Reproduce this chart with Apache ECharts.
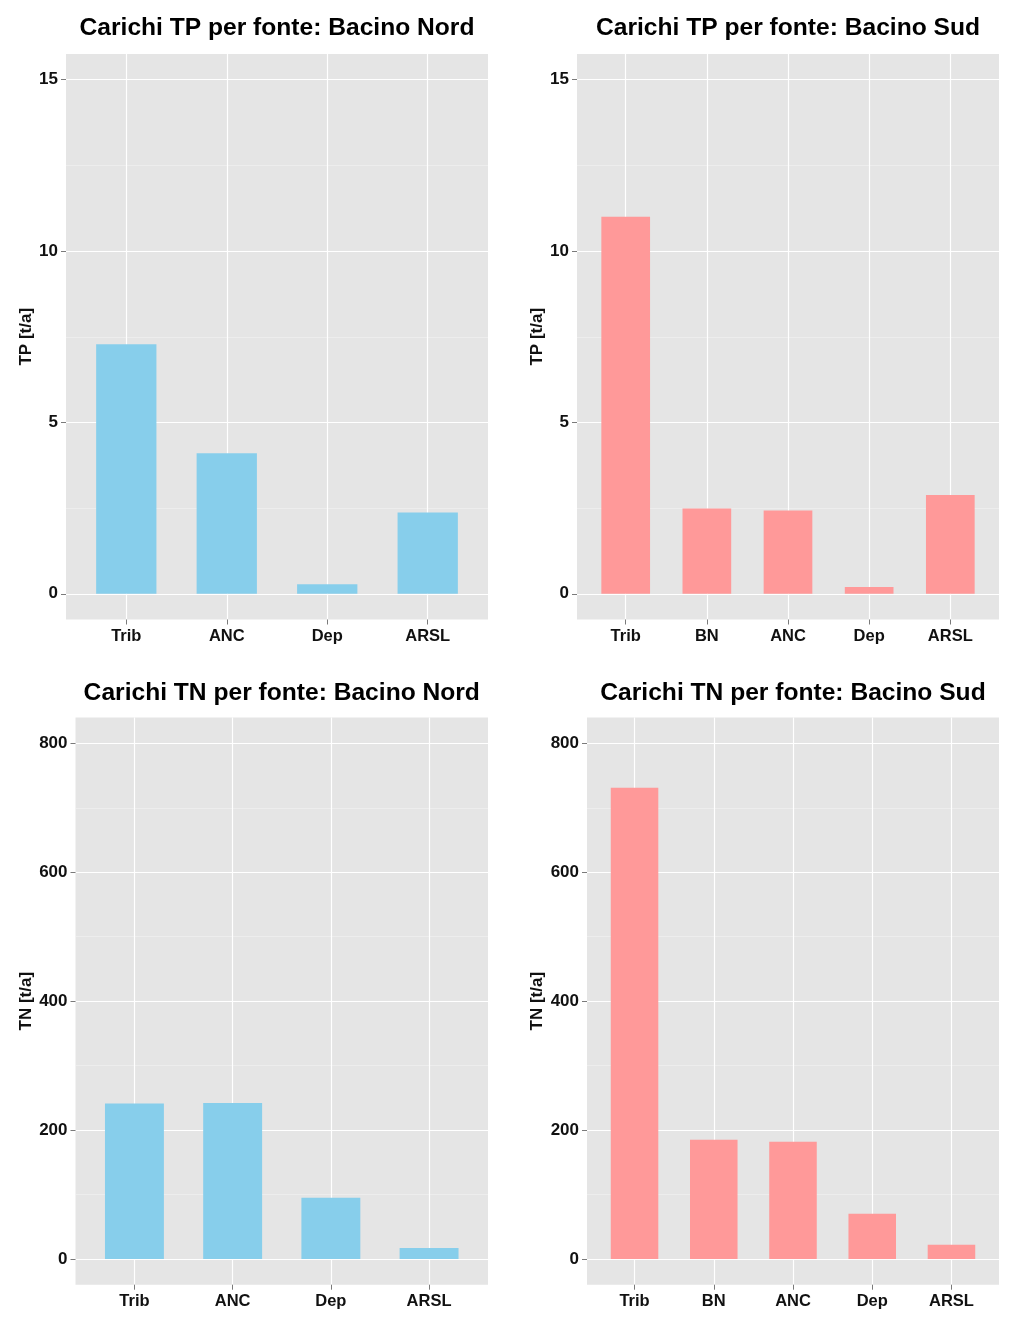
<!DOCTYPE html>
<html>
<head>
<meta charset="utf-8">
<script src="https://cdn.jsdelivr.net/npm/echarts@6/dist/echarts.min.js"></script>
<style>
html,body{margin:0;padding:0;background:#fff;}
#chart{width:1024px;height:1330px;}
</style>
</head>
<body>
<div id="chart"></div>
<script>
// ---- data ----
const catNord = ['Trib', 'ANC', 'Dep', 'ARSL'];
const catSud = ['Trib', 'BN', 'ANC', 'Dep', 'ARSL'];
const tpNord = [7.28, 4.10, 0.28, 2.37];
const tpSud = [11.0, 2.49, 2.43, 0.20, 2.88];
const tnNord = [241, 242, 95, 17];
const tnSud = [731, 185, 182, 70, 22];
const tpTicks = [0, 5, 10, 15];
const tnTicks = [0, 200, 400, 600, 800];
const titles = [
  'Carichi TP per fonte: Bacino Nord',
  'Carichi TP per fonte: Bacino Sud',
  'Carichi TN per fonte: Bacino Nord',
  'Carichi TN per fonte: Bacino Sud'
];
const yNames = ['TP [t/a]', 'TP [t/a]', 'TN [t/a]', 'TN [t/a]'];

// ---- layout (styles/positions) ----
const BLUE = '#87CEEB';
const PINK = '#FF9999';
const FONT = 'Liberation Sans, Arial, Helvetica, sans-serif';
const panels = [
  {cats: catNord, vals: tpNord, ticks: tpTicks, color: BLUE, left: 66, right: 488, top: 54, bottom: 619.5, gap: 31, titleY: 28},
  {cats: catSud, vals: tpSud, ticks: tpTicks, color: PINK, left: 577, right: 999, top: 54, bottom: 619.5, gap: 31, titleY: 28},
  {cats: catNord, vals: tnNord, ticks: tnTicks, color: BLUE, left: 75.5, right: 488, top: 717.6, bottom: 1284.7, gap: 41, titleY: 693},
  {cats: catSud, vals: tnSud, ticks: tnTicks, color: PINK, left: 587, right: 999, top: 717.6, bottom: 1284.7, gap: 41, titleY: 693}
];

const grid = [], xAxis = [], yAxis = [], series = [], graphic = [];

panels.forEach((p, k) => {
  const tmin = p.ticks[0], tmax = p.ticks[p.ticks.length - 1];
  const interval = p.ticks[1] - p.ticks[0];
  const exp = (tmax - tmin) * 0.05;
  const W = p.right - p.left, H = p.bottom - p.top;
  const pxU = H / (tmax - tmin + 2 * exp);
  const n = p.cats.length;
  const spacing = W / (n + 0.2);

  // background grid
  const gBG = grid.length;
  grid.push({left: p.left, top: p.top, width: W, height: H, show: true, backgroundColor: '#E5E5E5', borderWidth: 0});
  xAxis.push({gridIndex: gBG, type: 'value', show: false});
  yAxis.push({gridIndex: gBG, type: 'value', show: false});

  // y-axis grid (gridlines + labels), vertically inset to tick range
  const gA = grid.length;
  grid.push({left: p.left, top: p.top + exp * pxU, width: W, height: (tmax - tmin) * pxU, show: false});
  xAxis.push({gridIndex: gA, type: 'value', show: false});
  yAxis.push({
    gridIndex: gA, type: 'value', min: tmin, max: tmax, interval: interval,
    name: yNames[k], nameLocation: 'middle', nameRotate: 90, nameGap: p.gap,
    nameTextStyle: {fontFamily: FONT, fontWeight: 'bold', fontSize: 17, color: '#111'},
    axisLine: {show: false, onZero: false},
    axisTick: {show: true, length: 5, lineStyle: {color: '#7a7a7a', width: 1}},
    axisLabel: {fontFamily: FONT, fontWeight: 'bold', fontSize: 17, color: '#111', margin: 8},
    splitLine: {show: true, lineStyle: {color: '#FFFFFF', width: 1.2}},
    minorTick: {show: false, splitNumber: 2},
    minorSplitLine: {show: true, lineStyle: {color: '#F2F2F2', width: 0.6}}
  });

  // bar grid, horizontally inset so category centres sit as in the reference
  const gB = grid.length;
  grid.push({left: p.left + 0.1 * spacing, top: p.top, width: W - 0.2 * spacing, height: H, show: false});
  const xB = xAxis.length;
  // vertical white gridlines at category centres
  xAxis.push({
    gridIndex: gB, type: 'category', data: p.cats, position: 'bottom',
    axisLine: {show: false, onZero: false}, axisLabel: {show: false},
    axisTick: {show: true, inside: true, alignWithLabel: true, length: H, lineStyle: {color: '#FFFFFF', width: 1.2}},
    splitLine: {show: false}
  });
  // labels and outward ticks
  xAxis.push({
    gridIndex: gB, type: 'category', data: p.cats, position: 'bottom',
    axisLine: {show: false, onZero: false},
    axisTick: {show: true, alignWithLabel: true, length: 5, lineStyle: {color: '#7a7a7a', width: 1}},
    axisLabel: {fontFamily: FONT, fontWeight: 'bold', fontSize: 16.5, color: '#111', margin: 8},
    splitLine: {show: false}
  });
  const yB = yAxis.length;
  yAxis.push({gridIndex: gB, type: 'value', min: tmin - exp, max: tmax + exp, show: false, splitLine: {show: false}});

  series.push({
    type: 'bar', xAxisIndex: xB, yAxisIndex: yB, data: p.vals, barWidth: '60%',
    itemStyle: {color: p.color}, silent: true, animation: false
  });

  graphic.push({
    type: 'text', x: (p.left + p.right) / 2, y: p.titleY,
    style: {text: titles[k], fill: '#000', font: 'bold 24.6px ' + FONT, textAlign: 'center', textVerticalAlign: 'middle'}
  });
});

const chart = echarts.init(document.getElementById('chart'), null, {renderer: 'canvas'});
chart.setOption({
  animation: false,
  backgroundColor: '#FFFFFF',
  grid, xAxis, yAxis, series, graphic
});
</script>
</body>
</html>
